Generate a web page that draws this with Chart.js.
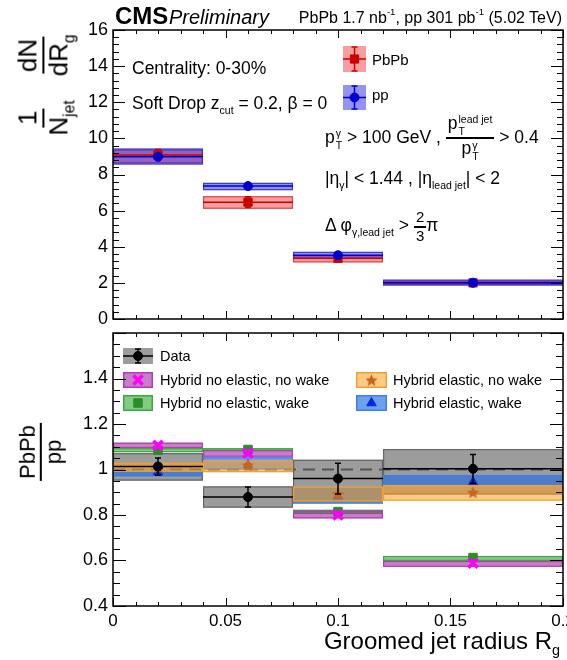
<!DOCTYPE html>
<html>
<head>
<meta charset="utf-8">
<script src="https://cdn.jsdelivr.net/npm/chart.js@4.4.1/dist/chart.umd.min.js"></script>
<style>
  body { margin: 0; background: #fff; width: 567px; height: 660px; overflow: hidden; position: relative;
         font-family: "Liberation Sans", Arial, Helvetica, sans-serif; color: #000; }
  canvas { position: absolute; left: 0; }
  #cTop { top: 0; }
  #cBot { top: 323px; }
  .t { position: absolute; white-space: nowrap; line-height: 1; }
  sub { font-size: 60%; vertical-align: -0.45em; line-height: 0; }
  sup { font-size: 60%; vertical-align: 0.8em; line-height: 0; }
  .frac { display: inline-flex; flex-direction: column; align-items: center; vertical-align: middle; line-height: 1.1; }
  .frac > span:first-child { border-bottom: 2px solid #000; padding: 0 2px; }
  .ss { display: inline-flex; flex-direction: column; font-size: 60%; line-height: 1.1; vertical-align: 0.55em; margin-left: 1px; }
  .yt { position: absolute; white-space: nowrap; display: flex; align-items: center; transform: translate(-50%, -50%) rotate(-90deg); }
</style>
</head>
<body>
<canvas id="cTop" width="580" height="331"></canvas>
<canvas id="cBot" width="580" height="337"></canvas>

<div class="t" style="left:115px;top:4px;font-size:24px;font-weight:bold">CMS</div>
<div class="t" style="left:169px;top:7px;font-size:20px;font-style:italic">Preliminary</div>
<div class="t" style="right:5px;top:10px;font-size:16px">PbPb 1.7 nb<sup>-1</sup>, pp 301 pb<sup>-1</sup> (5.02 TeV)</div>

<div class="t" style="left:132px;top:60px;font-size:17.5px">Centrality: 0-30%</div>
<div class="t" style="left:132px;top:95px;font-size:17.5px">Soft Drop z<sub>cut</sub> = 0.2, β = 0</div>
<div class="t" style="left:372px;top:52px;font-size:15px">PbPb</div>
<div class="t" style="left:372px;top:87px;font-size:15px">pp</div>

<div class="t" style="left:325px;top:114px;font-size:17.5px;line-height:1.2">p<span class="ss"><span>γ</span><span>T</span></span> &gt; 100 GeV , <span class="frac"><span>p<span class="ss"><span>lead jet</span><span>T</span></span></span><span>p<span class="ss"><span>γ</span><span>T</span></span></span></span> &gt; 0.4</div>
<div class="t" style="left:325px;top:170px;font-size:17.5px">|η<sub>γ</sub>| &lt; 1.44 , |η<sub>lead jet</sub>| &lt; 2</div>
<div class="t" style="left:325px;top:209px;font-size:17.5px;line-height:1.2">Δ φ<sub>γ,lead jet</sub> &gt; <span class="frac" style="font-size:15px"><span>2</span><span>3</span></span>π</div>

<div class="t" style="left:160px;top:349px;font-size:14.5px">Data</div>
<div class="t" style="left:160px;top:373px;font-size:14.5px">Hybrid no elastic, no wake</div>
<div class="t" style="left:160px;top:396px;font-size:14.5px">Hybrid no elastic, wake</div>
<div class="t" style="left:393px;top:373px;font-size:14.5px">Hybrid elastic, no wake</div>
<div class="t" style="left:393px;top:396px;font-size:14.5px">Hybrid elastic, wake</div>

<div class="yt" style="left:43px;top:85px;font-size:26px"><span class="frac"><span>1</span><span>N<sub>jet</sub></span></span><span class="frac" style="margin-left:24px"><span>dN</span><span>dR<sub>g</sub></span></span></div>
<div class="yt" style="left:41px;top:452px;font-size:22px"><span class="frac"><span>PbPb</span><span>pp</span></span></div>

<div class="t" style="right:7px;top:629px;font-size:24px">Groomed jet radius R<sub>g</sub></div>

<script>
const FONT = '"Liberation Sans", Arial, Helvetica, sans-serif';

// R_g bins
const binLo = [0, 0.04, 0.08, 0.12];
const binHi = [0.04, 0.08, 0.12, 0.2];
const binMid = [0.02, 0.06, 0.1, 0.16];

// top panel: 1/Njet dN/dRg
const pbpbVal = [9.08, 6.47, 3.36, 2.0];
const pbpbStat = [0.3, 0.3, 0.1, 0.06];
const pbpbSysLo = [8.62, 6.1, 3.13, 1.88];
const pbpbSysHi = [9.38, 6.8, 3.54, 2.12];
const ppVal = [8.98, 7.36, 3.53, 2.01];
const ppStat = [0.1, 0.05, 0.05, 0.03];
const ppSysLo = [8.55, 7.13, 3.32, 1.85];
const ppSysHi = [9.44, 7.54, 3.72, 2.18];

// bottom panel: PbPb/pp
const dataVal = [1.013, 0.879, 0.96, 1.003];
const dataStat = [0.038, 0.044, 0.068, 0.063];
const dataSysLo = [0.951, 0.832, 0.856, 0.89];
const dataSysHi = [1.072, 0.926, 1.043, 1.09];

const noElNoWakeVal = [1.106, 1.072, 0.80, 0.588];
const noElNoWakeLo = [1.094, 1.056, 0.785, 0.572];
const noElNoWakeHi = [1.118, 1.085, 0.819, 0.598];

const noElWakeVal = [1.085, 1.088, 0.815, 0.613];
const noElWakeLo = [1.076, 1.082, 0.805, 0.598];
const noElWakeHi = [1.094, 1.094, 0.823, 0.62];

const elNoWakeVal = [1.01, 1.02, 0.893, 0.9];
const elNoWakeLo = [0.99, 0.988, 0.859, 0.863];
const elNoWakeHi = [1.03, 1.04, 0.925, 0.932];

const elWakeVal = [0.988, 1.02, 0.882, 0.944];
const elWakeLo = [0.97, 1.0, 0.85, 0.93];
const elWakeHi = [0.995, 1.054, 0.922, 0.976];

Chart.defaults.font.family = FONT;
Chart.defaults.color = '#000';
Chart.defaults.animation = false;

const pts = vals => binMid.map((x, i) => ({ x, y: vals[i] }));

function starImage(size, color) {
  const c = document.createElement('canvas');
  c.width = c.height = size;
  const g = c.getContext('2d');
  const R = size / 2, r = R * 0.45;
  g.fillStyle = color;
  g.beginPath();
  for (let k = 0; k < 10; k++) {
    const a = -Math.PI / 2 + k * Math.PI / 5;
    const rad = k % 2 ? r : R;
    g.lineTo(R + rad * Math.cos(a), R * 1.1 + rad * Math.sin(a));
  }
  g.closePath();
  g.fill();
  return c;
}
const starImg = starImage(13, '#c8641e');

function sysBoxes(ctx, sx, sy, lo, hi, fill, stroke) {
  ctx.save();
  for (let i = 0; i < binLo.length; i++) {
    const x0 = sx.getPixelForValue(binLo[i]), x1 = sx.getPixelForValue(binHi[i]);
    const y0 = sy.getPixelForValue(hi[i]), y1 = sy.getPixelForValue(lo[i]);
    ctx.fillStyle = fill;
    ctx.fillRect(x0, y0, x1 - x0, y1 - y0);
    if (stroke) {
      ctx.strokeStyle = stroke;
      ctx.lineWidth = 1.2;
      ctx.strokeRect(x0 + 0.6, y0 + 0.6, x1 - x0 - 1.2, y1 - y0 - 1.2);
    }
  }
  ctx.restore();
}

function errBars(ctx, sx, sy, val, stat, color, lw, cap) {
  ctx.save();
  ctx.strokeStyle = color;
  ctx.lineWidth = lw;
  ctx.beginPath();
  for (let i = 0; i < binLo.length; i++) {
    const x0 = sx.getPixelForValue(binLo[i]), x1 = sx.getPixelForValue(binHi[i]);
    const xm = sx.getPixelForValue(binMid[i]);
    const yv = sy.getPixelForValue(val[i]);
    const ya = sy.getPixelForValue(val[i] + stat[i]), yb = sy.getPixelForValue(val[i] - stat[i]);
    ctx.moveTo(x0, yv); ctx.lineTo(x1, yv);
    ctx.moveTo(xm, ya); ctx.lineTo(xm, yb);
    ctx.moveTo(xm - cap, ya); ctx.lineTo(xm + cap, ya);
    ctx.moveTo(xm - cap, yb); ctx.lineTo(xm + cap, yb);
  }
  ctx.stroke();
  ctx.restore();
}

// inward ROOT-style ticks on all four sides plus the frame
function frameTicks(chart, yStep, yMajorEvery, yLen, xLen) {
  const { ctx, chartArea: a, scales: { x, y } } = chart;
  ctx.save();
  ctx.strokeStyle = '#000';
  ctx.lineWidth = 1;
  ctx.beginPath();
  for (let k = 0; k <= 20; k++) {
    const p = Math.round(x.getPixelForValue(k * 0.01)) + 0.5;
    const L = k % 5 === 0 ? xLen[0] : xLen[1];
    ctx.moveTo(p, a.bottom); ctx.lineTo(p, a.bottom - L);
    ctx.moveTo(p, a.top); ctx.lineTo(p, a.top + L);
  }
  const n = Math.round((y.max - y.min) / yStep);
  for (let k = 0; k <= n; k++) {
    const p = Math.round(y.getPixelForValue(y.min + k * yStep)) + 0.5;
    const L = k % yMajorEvery === 0 ? yLen[0] : yLen[1];
    ctx.moveTo(a.left, p); ctx.lineTo(a.left + L, p);
    ctx.moveTo(a.right, p); ctx.lineTo(a.right - L, p);
  }
  ctx.stroke();
  ctx.lineWidth = 1.5;
  ctx.strokeRect(a.left, a.top, a.right - a.left, a.bottom - a.top);
  ctx.restore();
}

function legendEntry(ctx, x0, y0, w, h, fill, stroke, point, color, bars) {
  ctx.save();
  ctx.fillStyle = fill;
  ctx.fillRect(x0, y0, w, h);
  if (stroke) {
    ctx.strokeStyle = stroke;
    ctx.lineWidth = 1.5;
    ctx.strokeRect(x0 + 0.75, y0 + 0.75, w - 1.5, h - 1.5);
  }
  const cx = x0 + w / 2, cy = y0 + h / 2;
  if (bars) {
    ctx.strokeStyle = color;
    ctx.lineWidth = 1.5;
    ctx.beginPath();
    ctx.moveTo(x0, cy); ctx.lineTo(x0 + w, cy);
    ctx.moveTo(cx, y0 + 1); ctx.lineTo(cx, y0 + h - 1);
    ctx.moveTo(cx - 3, y0 + 1); ctx.lineTo(cx + 3, y0 + 1);
    ctx.moveTo(cx - 3, y0 + h - 1); ctx.lineTo(cx + 3, y0 + h - 1);
    ctx.stroke();
  }
  ctx.fillStyle = color;
  ctx.strokeStyle = color;
  ctx.lineWidth = point.borderWidth || 1;
  Chart.helpers.drawPoint(ctx, { pointStyle: point.style, radius: point.radius, rotation: 0, borderWidth: point.borderWidth || 1 }, cx, cy);
  ctx.restore();
}

const hiddenGrid = { display: false, drawTicks: false };
// keep the plot frames where they are: no extra room for end labels
const noPadX = s => { s.paddingLeft = 0; s.paddingRight = 0; };
const noPadY = s => { s.width = 113; s.paddingTop = 0; s.paddingBottom = 0; };

const topPlugin = {
  id: 'topPanel',
  beforeDatasetsDraw(chart) {
    const { ctx, scales: { x, y } } = chart;
    sysBoxes(ctx, x, y, pbpbSysLo, pbpbSysHi, 'rgba(240,40,40,0.45)', 'rgba(225,60,60,0.9)');
    sysBoxes(ctx, x, y, ppSysLo, ppSysHi, 'rgba(40,40,230,0.5)', 'rgba(50,50,220,0.9)');
  },
  beforeDatasetDraw(chart, args) {
    const { ctx, scales: { x, y } } = chart;
    if (args.index === 1) errBars(ctx, x, y, pbpbVal, pbpbStat, '#cc0000', 1.5, 3);
    else errBars(ctx, x, y, ppVal, ppStat, '#0000cc', 1.5, 3);
  },
  afterDraw(chart) {
    const ctx = chart.ctx;
    legendEntry(ctx, 343, 46, 23, 26, 'rgba(240,40,40,0.45)', null, { style: 'rect', radius: 5.8 }, '#cc0000', true);
    legendEntry(ctx, 343, 85, 23, 25, 'rgba(40,40,230,0.5)', null, { style: 'circle', radius: 4.5 }, '#0000cc', true);
    frameTicks(chart, 0.4, 5, [12, 6], [8, 4]);
  }
};

new Chart(document.getElementById('cTop'), {
  type: 'scatter',
  data: {
    datasets: [
      { label: 'pp', data: pts(ppVal), pointStyle: 'circle', pointRadius: 4.5,
        pointBackgroundColor: '#0000cc', pointBorderColor: '#0000cc', pointBorderWidth: 1 },
      { label: 'PbPb', data: pts(pbpbVal), pointStyle: 'rect', pointRadius: 5.8,
        pointBackgroundColor: '#cc0000', pointBorderColor: '#cc0000', pointBorderWidth: 1 }
    ]
  },
  options: {
    responsive: false, devicePixelRatio: 1, events: [],
    layout: { padding: { top: 30, right: 17, bottom: 12, left: 0 } },
    plugins: { legend: { display: false }, tooltip: { enabled: false } },
    scales: {
      x: { type: 'linear', min: 0, max: 0.2, ticks: { display: false }, grid: hiddenGrid, border: { display: false },
           afterFit: s => { s.height = 0; noPadX(s); } },
      y: { min: 0, max: 16, ticks: { stepSize: 2, font: { size: 18 }, padding: 5 }, grid: hiddenGrid, border: { display: false },
           afterFit: noPadY }
    }
  },
  plugins: [topPlugin]
});

const modelStyle = [
  null,
  { lo: noElNoWakeLo, hi: noElNoWakeHi, fill: 'rgba(160,40,160,0.6)', stroke: '#b43cb4' },
  { lo: noElWakeLo, hi: noElWakeHi, fill: 'rgba(30,160,30,0.55)', stroke: '#3caa3c' },
  { lo: elNoWakeLo, hi: elNoWakeHi, fill: 'rgba(255,160,30,0.55)', stroke: '#f0a032' },
  { lo: elWakeLo, hi: elWakeHi, fill: 'rgba(30,110,230,0.65)', stroke: '#3c82e6' }
];

const botPlugin = {
  id: 'ratioPanel',
  beforeDatasetsDraw(chart) {
    const { ctx, chartArea: a, scales: { x, y } } = chart;
    sysBoxes(ctx, x, y, dataSysLo, dataSysHi, 'rgba(90,90,90,0.6)', 'rgba(95,95,95,0.9)');
    ctx.save();
    ctx.strokeStyle = '#555';
    ctx.lineWidth = 2;
    ctx.setLineDash([12, 7]);
    const p = y.getPixelForValue(1);
    ctx.beginPath();
    ctx.moveTo(a.left, p); ctx.lineTo(a.right, p);
    ctx.stroke();
    ctx.restore();
  },
  beforeDatasetDraw(chart, args) {
    const { ctx, scales: { x, y } } = chart;
    const m = modelStyle[args.index];
    if (m) sysBoxes(ctx, x, y, m.lo, m.hi, m.fill, m.stroke);
    else errBars(ctx, x, y, dataVal, dataStat, '#000', 1.5, 3);
  },
  afterDraw(chart) {
    const ctx = chart.ctx;
    legendEntry(ctx, 123, 25, 30, 16, 'rgba(90,90,90,0.6)', null, { style: 'circle', radius: 4.5 }, '#000', true);
    legendEntry(ctx, 123, 49, 30, 16, 'rgba(160,40,160,0.6)', '#b43cb4', { style: 'crossRot', radius: 6.5, borderWidth: 3.5 }, '#ff00ff', false);
    legendEntry(ctx, 123, 72, 30, 16, 'rgba(30,160,30,0.55)', '#3caa3c', { style: 'rect', radius: 6 }, '#2a8c2a', false);
    legendEntry(ctx, 356, 49, 31, 16, 'rgba(255,160,30,0.55)', '#f0a032', { style: starImg, radius: 6 }, '#c8641e', false);
    legendEntry(ctx, 356, 72, 31, 16, 'rgba(30,110,230,0.65)', '#3c82e6', { style: 'triangle', radius: 5.5 }, '#0028e6', false);
    frameTicks(chart, 0.05, 4, [13, 7], [8, 4]);
  }
};

new Chart(document.getElementById('cBot'), {
  type: 'scatter',
  data: {
    datasets: [
      { label: 'Data', data: pts(dataVal), pointStyle: 'circle', pointRadius: 4.5,
        pointBackgroundColor: '#000', pointBorderColor: '#000', pointBorderWidth: 1 },
      { label: 'Hybrid no elastic, no wake', data: pts(noElNoWakeVal), pointStyle: 'crossRot', pointRadius: 6.5,
        pointBorderColor: '#ff00ff', pointBorderWidth: 3.5 },
      { label: 'Hybrid no elastic, wake', data: pts(noElWakeVal), pointStyle: 'rect', pointRadius: 6,
        pointBackgroundColor: '#2a8c2a', pointBorderColor: '#2a8c2a', pointBorderWidth: 1 },
      { label: 'Hybrid elastic, no wake', data: pts(elNoWakeVal), pointStyle: starImg, pointRadius: 6 },
      { label: 'Hybrid elastic, wake', data: pts(elWakeVal), pointStyle: 'triangle', pointRadius: 5.5,
        pointBackgroundColor: '#0028e6', pointBorderColor: '#0028e6', pointBorderWidth: 1 }
    ]
  },
  options: {
    responsive: false, devicePixelRatio: 1, events: [],
    layout: { padding: { top: 10, right: 17, bottom: 0, left: 0 } },
    plugins: { legend: { display: false }, tooltip: { enabled: false } },
    scales: {
      x: { type: 'linear', min: 0, max: 0.2,
           ticks: { stepSize: 0.05, font: { size: 17 }, padding: 5, maxRotation: 0, autoSkip: false, callback: v => String(+v.toFixed(2)) },
           grid: hiddenGrid, border: { display: false },
           afterFit: s => { s.height = 54; noPadX(s); } },
      y: { min: 0.4, max: 1.6,
           ticks: { stepSize: 0.2, font: { size: 18 }, padding: 5, callback: v => v > 1.5 ? '' : String(+v.toFixed(2)) },
           grid: hiddenGrid, border: { display: false },
           afterFit: noPadY }
    }
  },
  plugins: [botPlugin]
});
</script>
</body>
</html>
